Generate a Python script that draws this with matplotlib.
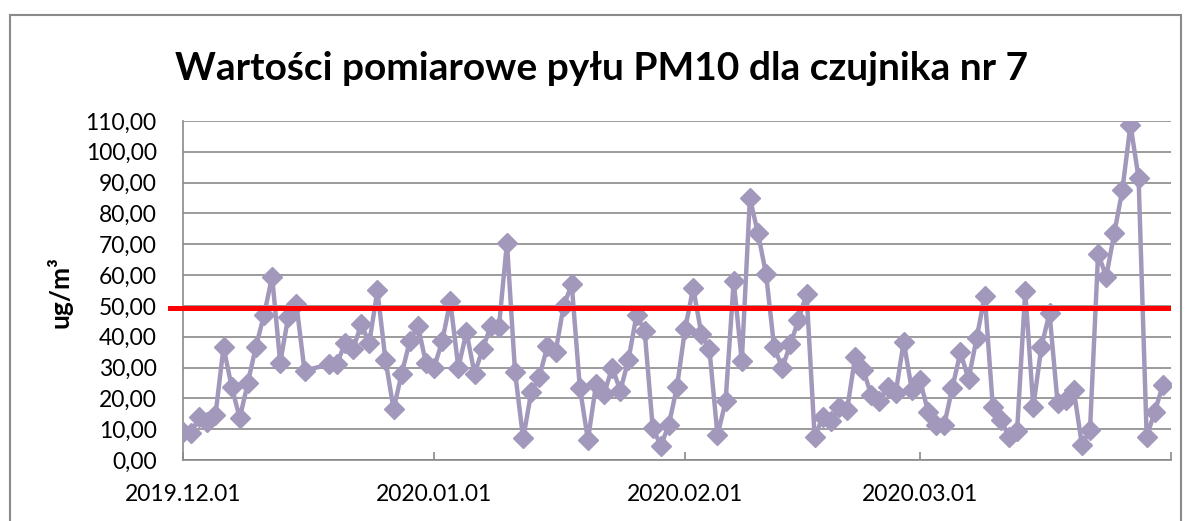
import pandas as pd
import matplotlib
matplotlib.use('Agg')
import matplotlib.pyplot as plt
import matplotlib.transforms as mtransforms
from matplotlib.patches import Rectangle

plt.rcParams['font.family'] = ['Lato', 'DejaVu Sans']

# daily readings, 17-18 Dec missing
dates = list(pd.date_range('2019-12-01', '2019-12-16')) + list(pd.date_range('2019-12-19', '2020-03-31'))
pm10 = [
    9.1, 8.7, 14.0, 12.4, 14.5, 36.6, 23.8, 13.6, 25.0, 36.8, 47.0, 59.5, 31.6, 46.5, 50.5, 29.0,
    31.0, 31.0, 38.0, 36.0, 44.0, 38.0, 55.0, 32.5, 16.5, 28.0, 38.5, 43.5, 31.5,
    30.0, 38.5, 51.5, 30.0, 41.5, 28.0, 36.0, 43.5, 43.0, 70.5, 28.5, 7.0, 22.0, 27.0, 37.0,
    35.0, 50.0, 57.0, 23.5, 6.5, 24.5, 21.5, 30.0, 22.5, 32.5, 47.0, 42.0, 10.5, 4.6, 11.5, 23.8,
    42.5, 55.8, 41.0, 36.0, 8.0, 19.0, 58.0, 32.0, 85.0, 73.5, 60.3, 36.5, 30.0, 37.5, 45.5,
    54.0, 7.3, 14.0, 12.5, 17.3, 16.2, 33.5, 29.2, 21.0, 19.0, 23.8, 21.7, 38.4, 22.7,
    26.0, 15.7, 11.4, 11.4, 23.4, 35.0, 26.2, 39.5, 53.3, 17.3, 13.0, 7.5, 9.5, 54.8, 17.3,
    36.8, 47.7, 18.4, 19.5, 22.7, 4.9, 9.7, 67.0, 59.5, 73.6, 87.7, 108.8, 91.5, 7.5, 15.7, 24.3,
]
limit = 49.3
xticks = ['2019-12-01', '2020-01-01', '2020-02-01', '2020-03-01', '2020-04-01']
xlabels = ['2019.12.01', '2020.01.01', '2020.02.01', '2020.03.01', '']
yticks = list(range(0, 111, 10))

grey = '#8a8a8a'
fig = plt.figure(figsize=(11.87, 5.21), dpi=100)
ax = fig.add_axes([0.1542, 0.1171, 0.8323, 0.6507])

ax.plot(dates, pm10, color='#A298BB', lw=3.2, marker='D', ms=10,
        mfc='#A298BB', mec='#A298BB', zorder=3)

# red limit line drawn over the chart
trans = mtransforms.blended_transform_factory(ax.transAxes, ax.transData)
ax.plot([-0.013, 0.997], [limit, limit], color='#FF0000', lw=3.6,
        transform=trans, clip_on=False, zorder=4)

ax.set_xlim(pd.Timestamp(xticks[0]), pd.Timestamp(xticks[-1]))
ax.set_xticks([pd.Timestamp(d) for d in xticks])
ax.set_xticklabels(xlabels)
ax.set_ylim(0, 110)
ax.set_yticks(yticks)
ax.set_yticklabels([('%.2f' % v).replace('.', ',') for v in yticks])

ax.yaxis.grid(True, color=grey, lw=1.2)
ax.set_axisbelow(True)
for s in ['top', 'right']:
    ax.spines[s].set_visible(False)
for s in ['left', 'bottom']:
    ax.spines[s].set_color(grey)
    ax.spines[s].set_linewidth(1.2)
ax.tick_params(axis='y', length=0, pad=19, labelsize=16.5)
ax.tick_params(axis='x', direction='in', length=6, width=1.2, color=grey, pad=17, labelsize=16.5)

fig.text(60 / 1187, 1 - 292 / 521, 'ug/m³', rotation=90, ha='center', va='center',
         fontsize=19, fontweight='bold')
fig.text(0.507, 1 - 80 / 521, 'Wartości pomiarowe pyłu PM10 dla czujnika nr 7',
         ha='center', va='baseline', fontsize=28, fontweight='bold')

fig.add_artist(Rectangle((10 / 1187, -0.1), 1171 / 1187, 0.1 + 1 - 15 / 521,
                         transform=fig.transFigure, fill=False, ec=grey, lw=1.5))

fig.savefig('out.png', dpi=100)
